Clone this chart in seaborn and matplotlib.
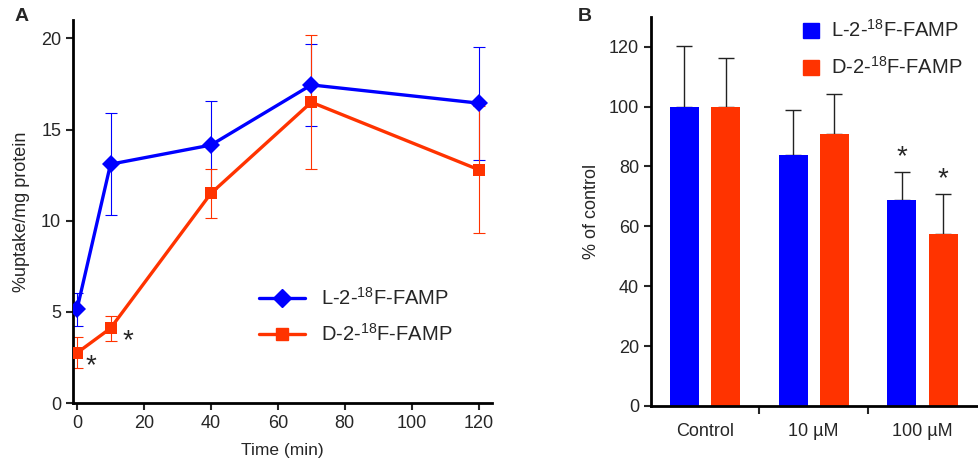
import numpy as np
import pandas as pd
import seaborn as sns
import matplotlib.pyplot as plt
from matplotlib.lines import Line2D
from matplotlib.patches import Patch

# panel A data: uptake over time
time_min = [0, 10, 40, 70, 120]
l_uptake = [5.15, 13.1, 14.15, 17.45, 16.45]
l_err = [0.9, 2.8, 2.4, 2.25, 3.1]
d_uptake = [2.75, 4.1, 11.5, 16.5, 12.8]
d_err = [0.85, 0.7, 1.33, 3.67, 3.5]

# panel B data: inhibition
groups = ['Control', '10 \u00b5M', '100 \u00b5M']
l_pct = [100, 83.7, 68.7]
l_pct_err = [20.2, 15.2, 9.6]
d_pct = [100, 90.9, 57.4]
d_pct_err = [16.1, 13.2, 13.4]

lab_l = 'L-2-$^{18}$F-FAMP'
lab_d = 'D-2-$^{18}$F-FAMP'
blue = '#0000FF'
red = '#FF3300'

sns.set_theme(style='ticks')
plt.rcParams['font.family'] = ['Liberation Sans', 'DejaVu Sans']
plt.rcParams['mathtext.fontset'] = 'custom'
plt.rcParams['mathtext.rm'] = 'Liberation Sans'
plt.rcParams['mathtext.it'] = 'Liberation Sans'
plt.rcParams['mathtext.bf'] = 'Liberation Sans:bold'

fig = plt.figure(figsize=(9.79, 4.59), dpi=100)
ax1 = fig.add_axes([0.0746, 0.122, 0.428, 0.834])
ax2 = fig.add_axes([0.6647, 0.1155, 0.333, 0.848])

# ---- panel A
df_a = pd.DataFrame({
    'time': time_min * 2,
    'uptake': l_uptake + d_uptake,
    'tracer': [lab_l] * 5 + [lab_d] * 5,
})
ax1.errorbar(time_min, l_uptake, yerr=l_err, fmt='none', ecolor=blue, elinewidth=0.8, capsize=4, capthick=0.8, zorder=1)
ax1.errorbar(time_min, d_uptake, yerr=d_err, fmt='none', ecolor=red, elinewidth=0.8, capsize=4, capthick=0.8, zorder=1)
sns.lineplot(data=df_a, x='time', y='uptake', hue='tracer', style='tracer',
             palette=[blue, red], markers=['D', 's'], dashes=False, markersize=9,
             markeredgewidth=0, linewidth=2.4, legend=False, ax=ax1, zorder=3)
ax1.set_xlim(-1.2, 124)
ax1.set_ylim(0, 21)
ax1.set_xticks(range(0, 121, 20))
ax1.set_yticks(range(0, 21, 5))
ax1.set_xlabel('Time (min)', fontsize=12.5, labelpad=8)
ax1.set_ylabel('%uptake/mg protein', fontsize=13, labelpad=8)
ax1.tick_params(labelsize=13, width=1.5, length=5)
for s in ['left', 'bottom']:
    ax1.spines[s].set_linewidth(2)
    ax1.spines[s].set_color('black')
sns.despine(ax=ax1)
ax1.text(2.5, d_uptake[0] - 1.1, '*', fontsize=20, ha='left')
ax1.text(13.5, d_uptake[1] - 1.1, '*', fontsize=20, ha='left')
h_a = [Line2D([], [], color=blue, marker='D', markersize=9, lw=2.4),
       Line2D([], [], color=red, marker='s', markersize=9, lw=2.4)]
ax1.legend(h_a, [lab_l, lab_d], frameon=False, fontsize=14.5, loc='upper left',
           bbox_to_anchor=(0.4, 0.35), handlelength=2.3, labelspacing=0.7)
fig.text(0.015, 0.955, 'A', fontsize=14, fontweight='bold')

# ---- panel B
df_b = pd.DataFrame({
    'group': groups * 2,
    'pct': l_pct + d_pct,
    'tracer': [lab_l] * 3 + [lab_d] * 3,
})
sns.barplot(data=df_b, x='group', y='pct', hue='tracer', palette=[blue, red],
            saturation=1, linewidth=0, width=0.76, gap=0.3, errorbar=None,
            legend=False, ax=ax2, zorder=2)
errs = l_pct_err + d_pct_err
bars = [p for p in ax2.patches if p.get_height() > 0]
for bar, e in zip(bars, errs):
    cx = bar.get_x() + bar.get_width() / 2
    ax2.errorbar(cx, bar.get_height(), yerr=[[0], [e]], fmt='none', ecolor='#222222',
                 elinewidth=1, capsize=6, capthick=1, zorder=1)
# stars on 100 uM
for bar, e in zip([bars[2], bars[5]], [l_pct_err[2], d_pct_err[2]]):
    cx = bar.get_x() + bar.get_width() / 2
    ax2.text(cx, bar.get_height() + e + 0.5, '*', fontsize=20, ha='center', va='bottom')
ax2.set_xlim(-0.5, 2.5)
ax2.set_ylim(0, 130)
ax2.set_yticks(range(0, 121, 20))
ax2.set_xticks([0.5, 1.5], minor=True)
ax2.tick_params(axis='x', which='major', length=0, pad=12)
ax2.tick_params(axis='x', which='minor', length=6, width=1.5)
ax2.tick_params(axis='y', width=1.5, length=5)
ax2.tick_params(labelsize=13)
ax2.set_xlabel('')
ax2.set_ylabel('% of control', fontsize=13, labelpad=6)
for s in ['left', 'bottom']:
    ax2.spines[s].set_linewidth(2)
    ax2.spines[s].set_color('black')
sns.despine(ax=ax2)
h_b = [Patch(color=blue), Patch(color=red)]
ax2.legend(h_b, [lab_l, lab_d], frameon=False, fontsize=14.5, loc='upper left',
           bbox_to_anchor=(0.41, 1.04), handlelength=0.8, handleheight=0.8,
           labelspacing=0.75, handletextpad=0.6)
fig.text(0.59, 0.955, 'B', fontsize=14, fontweight='bold')

fig.savefig('out.png', dpi=100)
